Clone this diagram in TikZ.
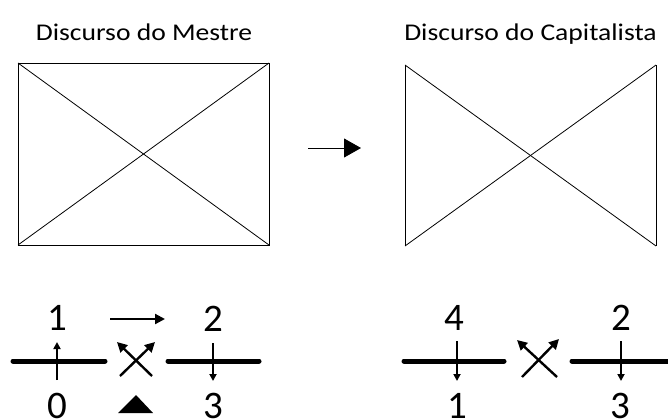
\documentclass[tikz,border=0pt]{standalone}
\usepackage{graphicx}
\usepackage{fontspec}
\setmainfont{Carlito}
\usetikzlibrary{arrows.meta}
\begin{document}
\begin{tikzpicture}[x=1pt,y=-1pt,
  title/.style={font=\fontsize{24}{26}\selectfont,anchor=base,inner sep=0pt},
  digit/.style={font=\fontsize{39}{40}\selectfont,anchor=base,inner sep=0pt},
  thin box/.style={line width=0.8pt},
  bar/.style={line width=5pt,line cap=round},
  varrow/.style={line width=2.2pt,-{Triangle[width=7pt,length=7pt]}},
  xarrow/.style={line width=2.4pt,-{Triangle[width=10pt,length=10pt]}},
  harrow/.style={line width=2.2pt,-{Triangle[width=10pt,length=10pt]}},
  bigarrow/.style={line width=0.9pt,-{Triangle[width=19pt,length=17pt]}}]
\useasboundingbox (0,0) rectangle (668,418);
% titles
\node[title] (t1) at (144,40) {\scalebox{1.15}[1]{Discurso do Mestre}};
\node[title] (t2) at (530.5,40) {\scalebox{1.15}[1]{Discurso do Capitalista}};
% left box
\coordinate (aTL) at (18,63); \coordinate (aTR) at (269,63);
\coordinate (aBL) at (18,245); \coordinate (aBR) at (269,245);
\draw[thin box] (aTL) -- (aTR) -- (aBR) -- (aBL) -- cycle;
\draw[thin box] (aTL) -- (aBR);
\draw[thin box] (aBL) -- (aTR);
% right box
\coordinate (bTL) at (405,65); \coordinate (bTR) at (656,65);
\coordinate (bBL) at (405,246); \coordinate (bBR) at (656,246);
\draw[thin box] (bTL) -- (bBL);
\draw[thin box] (bTR) -- (bBR);
\draw[thin box] (bTL) -- (bBR);
\draw[thin box] (bBL) -- (bTR);
% middle arrow
\coordinate (m1) at (308,148); \coordinate (m2) at (361,148);
\draw[bigarrow] (m1) -- (m2);
% bottom left formula
\node[digit] (l1) at (57,330) {1};
\node[digit] (l2) at (213,331) {2};
\node[digit] (l0) at (57,418) {0};
\node[digit] (l3) at (213,418) {3};
\coordinate (lb1a) at (13,361); \coordinate (lb1b) at (105,361);
\coordinate (lb2a) at (168,361); \coordinate (lb2b) at (259,361);
\draw[bar] (lb1a) -- (lb1b);
\draw[bar] (lb2a) -- (lb2b);
\coordinate (lv1a) at (57,380); \coordinate (lv1b) at (57,342);
\draw[varrow] (lv1a) -- (lv1b);
\coordinate (lv2a) at (213,343); \coordinate (lv2b) at (213,381);
\draw[varrow] (lv2a) -- (lv2b);
\coordinate (lh1) at (110,319); \coordinate (lh2) at (165,319);
\draw[harrow] (lh1) -- (lh2);
\coordinate (lx1a) at (120,376); \coordinate (lx1b) at (155,342);
\coordinate (lx2a) at (152,376); \coordinate (lx2b) at (117,342);
\draw[xarrow] (lx1a) -- (lx1b);
\draw[xarrow] (lx2a) -- (lx2b);
\coordinate (ltA) at (118,413); \coordinate (ltB) at (153,413); \coordinate (ltC) at (136,395);
\fill (ltA) -- (ltB) -- (ltC) -- cycle;
% bottom right formula
\node[digit] (r4) at (454,330) {4};
\node[digit] (r2) at (621,330) {2};
\node[digit] (r1) at (457,418) {1};
\node[digit] (r3) at (620,418) {3};
\coordinate (rb1a) at (404,361); \coordinate (rb1b) at (504,361);
\coordinate (rb2a) at (572,361); \coordinate (rb2b) at (672,361);
\draw[bar] (rb1a) -- (rb1b);
\draw[bar] (rb2a) -- (rb2b);
\coordinate (rv1a) at (457,341); \coordinate (rv1b) at (457,381);
\draw[varrow] (rv1a) -- (rv1b);
\coordinate (rv2a) at (621,341); \coordinate (rv2b) at (621,381);
\draw[varrow] (rv2a) -- (rv2b);
\coordinate (rx1a) at (522,377); \coordinate (rx1b) at (559,339);
\coordinate (rx2a) at (557,377); \coordinate (rx2b) at (517,340);
\draw[xarrow] (rx1a) -- (rx1b);
\draw[xarrow] (rx2a) -- (rx2b);
\end{tikzpicture}
\end{document}
